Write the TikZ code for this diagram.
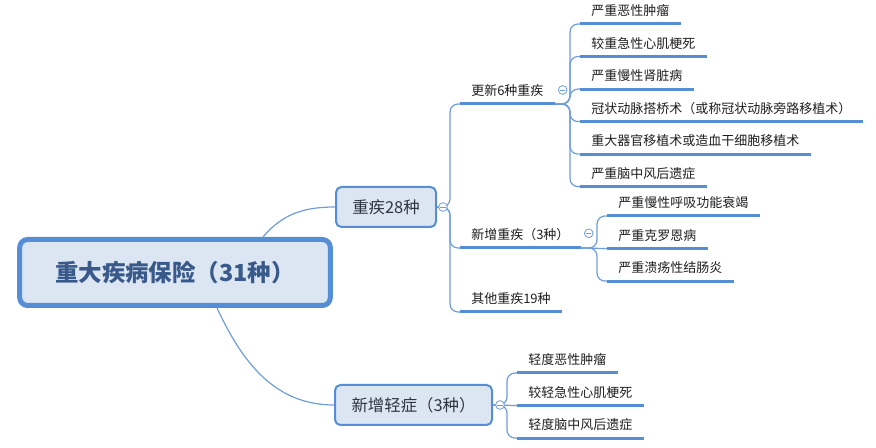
\documentclass[tikz,border=0pt]{standalone}
\usepackage{fontspec}
\setmainfont{Noto Sans CJK SC}
\usepackage{tikz}
\usetikzlibrary{positioning}

\definecolor{mapblue}{HTML}{558ED5}
\definecolor{mapfill}{HTML}{DCE6F2}
\definecolor{maplink}{HTML}{6F9DDA}
\definecolor{roottext}{HTML}{38598A}
\definecolor{boxtext}{HTML}{2E3440}
\definecolor{leaftext}{HTML}{1E1E1E}

\begin{document}
\begin{tikzpicture}[
    x=0.75pt, y=-0.75pt,
    rootbox/.style={draw=mapblue, line width=3.75pt, fill=mapfill, rounded corners=6pt,
                    minimum width=233pt, minimum height=49.5pt, text=roottext,
                    font=\fontsize{17.6pt}{21pt}\selectfont\bfseries},
    topbox/.style={draw=mapblue, line width=1.5pt, fill=mapfill, rounded corners=4pt,
                   minimum width=75pt, minimum height=30pt, text=boxtext,
                   font=\fontsize{12.3pt}{14pt}\selectfont},
    leaf/.style={anchor=south west, inner xsep=8.25pt, inner ysep=0pt, minimum height=19.5pt,
                 text=leaftext, font=\fontsize{9.75pt}{12pt}\selectfont},
    uline/.style={draw=mapblue, line width=2.25pt},
    link/.style={draw=maplink, line width=0.9pt, rounded corners=6pt},
    fold/.style={circle, draw=maplink, fill=white, line width=0.6pt, minimum size=6.5pt,
                 inner sep=0pt, path picture={\draw[maplink, line width=0.6pt]
                 ([xshift=-2pt]path picture bounding box.center) --
                 ([xshift=2pt]path picture bounding box.center);}}
]
\useasboundingbox (0,0) rectangle (876,448);

% main topics
\node[rootbox] (root) at (175,272.5) {重大疾病保险（31种）};
\node[topbox] (major) at (386,207) {重疾28种};
\node[topbox, minimum width=117.75pt] (minor) at (413.5,405) {新增轻症（3种）};

% subtopics of 重疾28种
\node[leaf] (renew) at (460,104) {更新6种重疾};
\node[leaf] (added) at (460,248) {新增重疾（3种）};
\node[leaf] (others) at (460,312) {其他重疾19种};

% 更新6种重疾
\node[leaf] (r1) at (580,24) {严重恶性肿瘤};
\node[leaf, below=4.5pt of r1.south west, anchor=north west] (r2) {较重急性心肌梗死};
\node[leaf, below=4.5pt of r2.south west, anchor=north west] (r3) {严重慢性肾脏病};
\node[leaf, below=4.5pt of r3.south west, anchor=north west] (r4) {冠状动脉搭桥术（或称冠状动脉旁路移植术）};
\node[leaf, below=4.5pt of r4.south west, anchor=north west] (r5) {重大器官移植术或造血干细胞移植术};
\node[leaf, below=4.5pt of r5.south west, anchor=north west] (r6) {严重脑中风后遗症};

% 新增重疾（3种）
\node[leaf] (a1) at (607,216) {严重慢性呼吸功能衰竭};
\node[leaf, below=4.5pt of a1.south west, anchor=north west] (a2) {严重克罗恩病};
\node[leaf, below=4.5pt of a2.south west, anchor=north west] (a3) {严重溃疡性结肠炎};

% 新增轻症（3种）
\node[leaf] (m1) at (517,373) {轻度恶性肿瘤};
\node[leaf, below=4.5pt of m1.south west, anchor=north west] (m2) {较轻急性心肌梗死};
\node[leaf, below=4.5pt of m2.south west, anchor=north west] (m3) {轻度脑中风后遗症};

% trunks
\coordinate[left=7.5pt of renew.south west] (tmajor);
\coordinate[left=7.5pt of r1.south west] (trenew);
\coordinate[left=7.5pt of a1.south west] (tadded);
\coordinate[left=7.5pt of m1.south west] (tminor);

% connectors
\draw[link] ([xshift=66pt]root.north) to[out=50, in=180] (major.west);
\draw[link] ([xshift=31.5pt]root.south) to[out=-65, in=180] (minor.west);

\draw[link] (major.east) -| (renew.south west -| tmajor) -- (renew.south west);
\draw[link] (major.east) -| (added.south west -| tmajor) -- (added.south west);
\draw[link] (major.east) -| (others.south west -| tmajor) -- (others.south west);

\draw[link] (renew.south east) -| (r1.south west -| trenew) -- (r1.south west);
\draw[link] (renew.south east) -| (r2.south west -| trenew) -- (r2.south west);
\draw[link] (renew.south east) -| (r3.south west -| trenew) -- (r3.south west);
\draw[link] (renew.south east) -| (r4.south west -| trenew) -- (r4.south west);
\draw[link] (renew.south east) -| (r5.south west -| trenew) -- (r5.south west);
\draw[link] (renew.south east) -| (r6.south west -| trenew) -- (r6.south west);

\draw[link] (added.south east) -| (a1.south west -| tadded) -- (a1.south west);
\draw[link] (added.south east) -- (a2.south west);
\draw[link] (added.south east) -| (a3.south west -| tadded) -- (a3.south west);

\draw[link] (minor.east) -| (m1.south west -| tminor) -- (m1.south west);
\draw[link] (minor.east) -- (m2.south west);
\draw[link] (minor.east) -| (m3.south west -| tminor) -- (m3.south west);

% underlines
\draw[uline] (renew.south west) -- (renew.south east);
\draw[uline] (added.south west) -- (added.south east);
\draw[uline] (others.south west) -- (others.south east);
\draw[uline] (r1.south west) -- (r1.south east);
\draw[uline] (r2.south west) -- (r2.south east);
\draw[uline] (r3.south west) -- (r3.south east);
\draw[uline] (r4.south west) -- (r4.south east);
\draw[uline] (r5.south west) -- (r5.south east);
\draw[uline] (r6.south west) -- (r6.south east);
\draw[uline] (a1.south west) -- (a1.south east);
\draw[uline] (a2.south west) -- (a2.south east);
\draw[uline] (a3.south west) -- (a3.south east);
\draw[uline] (m1.south west) -- (m1.south east);
\draw[uline] (m2.south west) -- (m2.south east);
\draw[uline] (m3.south west) -- (m3.south east);

% collapse buttons
\node[fold] (fmajor) at ([xshift=4.5pt]major.east) {};
\node[fold] (fminor) at ([xshift=5.25pt]minor.east) {};
\node[fold] (frenew) at ([xshift=6pt, yshift=10.5pt]renew.south east) {};
\node[fold] (fadded) at ([xshift=6pt, yshift=11pt]added.south east) {};
\end{tikzpicture}
\end{document}
